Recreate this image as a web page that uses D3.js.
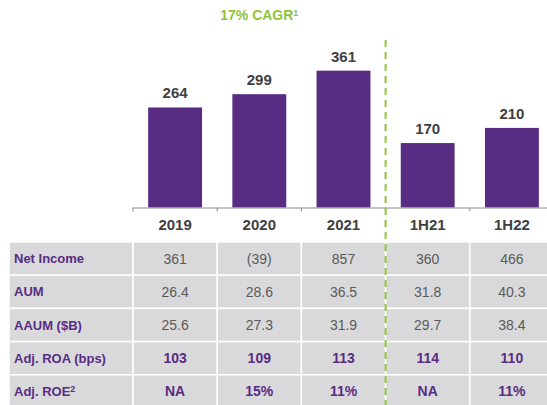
<!DOCTYPE html>
<html>
<head>
<meta charset="utf-8">
<script src="https://cdn.jsdelivr.net/npm/d3@7"></script>
<style>
  body { margin: 0; background: #fff; }
  svg { display: block; font-family: "Liberation Sans", Arial, sans-serif; }
</style>
</head>
<body>
<svg id="chart" width="547" height="405"></svg>
<script>
// Net income bars
var periods = ["2019", "2020", "2021", "1H21", "1H22"];
var barValues = [264, 299, 361, 170, 210];

// table rows
var rowLabels = ["Net Income", "AUM", "AAUM ($B)", "Adj. ROA (bps)", "Adj. ROE"];
var netIncome = ["361", "(39)", "857", "360", "466"];
var aum = ["26.4", "28.6", "36.5", "31.8", "40.3"];
var aaum = ["25.6", "27.3", "31.9", "29.7", "38.4"];
var adjRoa = ["103", "109", "113", "114", "110"];
var adjRoe = ["NA", "15%", "11%", "NA", "11%"];
var tableRows = [netIncome, aum, aaum, adjRoa, adjRoe];
var boldRows = [false, false, false, true, true];

var cagrLabel = "17% CAGR";

var svg = d3.select("#chart");

var purple = "#582c83";
var green = "#8fc43a";
var darkText = "#404040";

const baseline = 207.5;
const left = 133, right = 554;

// scales
var xScale = d3.scaleBand()
    .domain(periods)
    .range([left, right])
    .paddingInner(0.36)
    .paddingOuter(0.18);

var colScale = d3.scaleBand()
    .domain(periods)
    .range([left, right]);

var yScale = d3.scaleLinear()
    .domain([0, 400])
    .range([baseline, baseline - 151.6]);

var rowScale = d3.scaleBand()
    .domain(rowLabels)
    .range([242, 408]);

// table background
var table = svg.append("g");

table.selectAll(".row-label-cell")
    .data(rowLabels)
    .enter()
    .append("rect")
    .attr("x", 9)
    .attr("y", d => rowScale(d))
    .attr("width", left - 9)
    .attr("height", rowScale.bandwidth())
    .attr("fill", "#d9d9db")
    .attr("stroke", "#fff")
    .attr("stroke-width", 1.5);

tableRows.forEach(function (vals, r) {
    var y = rowScale(rowLabels[r]);
    var g = table.append("g");
    g.selectAll("rect")
        .data(periods)
        .enter()
        .append("rect")
        .attr("x", d => colScale(d))
        .attr("y", y)
        .attr("width", colScale.bandwidth())
        .attr("height", rowScale.bandwidth())
        .attr("fill", "#d9d9db")
        .attr("stroke", "#fff")
        .attr("stroke-width", 1.5);

    g.selectAll("text")
        .data(vals)
        .enter()
        .append("text")
        .attr("x", (d, i) => colScale(periods[i]) + colScale.bandwidth() / 2)
        .attr("y", y + rowScale.bandwidth() / 2)
        .attr("dy", "0.36em")
        .attr("text-anchor", "middle")
        .style("font-size", "14px")
        .style("font-weight", boldRows[r] ? "bold" : "normal")
        .attr("fill", boldRows[r] ? purple : "#595959")
        .text(d => d);
});

// row labels
var labels = table.selectAll(".row-label")
    .data(rowLabels)
    .enter()
    .append("text")
    .attr("class", "row-label")
    .attr("x", 14)
    .attr("y", d => rowScale(d) + rowScale.bandwidth() / 2)
    .attr("dy", "0.36em")
    .style("font-size", "13px")
    .style("font-weight", "bold")
    .attr("fill", purple)
    .text(d => d);

// superscript on ROE
labels.filter(d => d === "Adj. ROE")
    .append("tspan")
    .attr("dy", "-0.45em")
    .style("font-size", "9px")
    .text("2");

// bars
svg.selectAll(".bar")
    .data(barValues)
    .enter()
    .append("rect")
    .attr("class", "bar")
    .attr("x", (d, i) => xScale(periods[i]))
    .attr("y", d => yScale(d))
    .attr("width", xScale.bandwidth())
    .attr("height", d => baseline - yScale(d))
    .attr("fill", purple);

svg.selectAll(".bar-label")
    .data(barValues)
    .enter()
    .append("text")
    .attr("class", "bar-label")
    .attr("x", (d, i) => xScale(periods[i]) + xScale.bandwidth() / 2)
    .attr("y", d => yScale(d) - 9)
    .attr("text-anchor", "middle")
    .style("font-size", "15px")
    .style("font-weight", "bold")
    .attr("fill", darkText)
    .text(d => d);

// x axis line with ticks on band edges
svg.append("line")
    .attr("x1", left)
    .attr("x2", 547)
    .attr("y1", baseline + 0.5)
    .attr("y2", baseline + 0.5)
    .attr("stroke", "#8c8c8c")
    .attr("stroke-width", 1);

svg.selectAll(".tick-mark")
    .data(periods)
    .enter()
    .append("line")
    .attr("x1", d => colScale(d))
    .attr("x2", d => colScale(d))
    .attr("y1", baseline)
    .attr("y2", baseline + 4)
    .attr("stroke", "#8c8c8c");

svg.selectAll(".cat-label")
    .data(periods)
    .enter()
    .append("text")
    .attr("x", d => xScale(d) + xScale.bandwidth() / 2)
    .attr("y", 225)
    .attr("dy", "0.36em")
    .attr("text-anchor", "middle")
    .style("font-size", "15px")
    .style("font-weight", "bold")
    .attr("fill", darkText)
    .text(d => d);

// dashed divider between years and half years
var divX = colScale("1H21");
svg.append("line")
    .attr("x1", divX)
    .attr("x2", divX)
    .attr("y1", 40)
    .attr("y2", 405)
    .attr("stroke", green)
    .attr("stroke-width", 2)
    .attr("stroke-dasharray", "7,5");

// CAGR label over the yearly bars
var cagr = svg.append("text")
    .attr("x", (left + divX) / 2)
    .attr("y", 20)
    .attr("text-anchor", "middle")
    .style("font-size", "14px")
    .style("font-weight", "bold")
    .attr("fill", green)
    .text(cagrLabel);
cagr.append("tspan")
    .attr("dy", "-0.45em")
    .style("font-size", "9px")
    .text("1");
</script>
</body>
</html>
